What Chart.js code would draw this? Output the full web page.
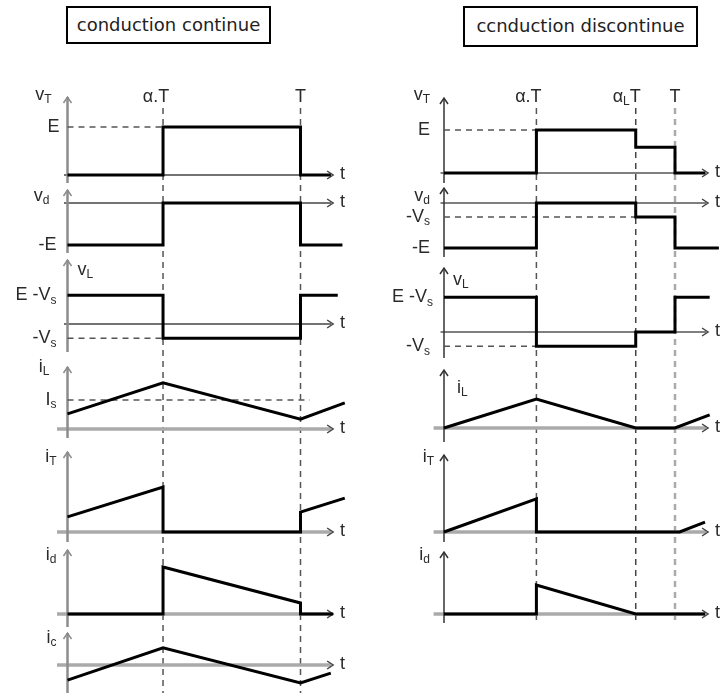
<!DOCTYPE html>
<html>
<head>
<meta charset="utf-8">
<script src="https://cdn.jsdelivr.net/npm/chart.js@4/dist/chart.umd.min.js"></script>
<style>
body { margin: 0; background: #fff; width: 724px; height: 697px; position: relative; overflow: hidden; }
.title { position: absolute; box-sizing: border-box; border: 2px solid #000; font: 18px "DejaVu Sans", sans-serif; color: #222; text-align: center; }
</style>
</head>
<body>
<div class="title" style="left:66px;top:6px;width:205px;height:38px;line-height:33px">conduction continue</div>
<div class="title" style="left:463px;top:6px;width:235px;height:41px;line-height:36px">ccnduction discontinue</div>
<script>
// time in units of T, voltages in units of E, currents in units of Is

// conduction continue
var alphaC = 0.41;
var vsC = 0.33;
var isC = 1;
var contVT_t = [0, 0.41, 0.41, 1, 1, 1.13];
var contVT   = [0, 0, 1, 1, 0, 0];
var contVd_t = [0, 0.41, 0.41, 1, 1, 1.18];
var contVd   = [-1, -1, 0, 0, -1, -1];
var contVL_t = [0, 0.41, 0.41, 1, 1, 1.16];
var contVL   = [0.67, 0.67, -0.33, -0.33, 0.67, 0.67];
var contIL_t = [0, 0.41, 1, 1.19];
var contIL   = [0.52, 1.59, 0.34, 0.9];
var contIT_t = [0, 0.41, 0.41, 1, 1, 1.19];
var contIT   = [0.52, 1.55, 0, 0, 0.69, 1.17];
var contId_t = [0, 0.41, 0.41, 1, 1, 1.14];
var contId   = [0, 0, 1.62, 0.38, 0, 0];
var contIc_t = [0, 0.41, 1, 1.13];
var contIc   = [-0.52, 0.59, -0.62, -0.28];
var contMarks = [0.41, 1];
var contMarkText = ['α.T', 'T'];

// conduction discontinue
var alphaD = 0.40;
var alphaL = 0.83;
var vsD = 0.31;
var discVT_t = [0, 0.40, 0.40, 0.83, 0.83, 1, 1, 1.13];
var discVT   = [0, 0, 1, 1, 0.6, 0.6, 0, 0];
var discVd_t = [0, 0.40, 0.40, 0.83, 0.83, 1, 1, 1.19];
var discVd   = [-1, -1, 0, 0, -0.31, -0.31, -1, -1];
var discVL_t = [0, 0.40, 0.40, 0.83, 0.83, 1, 1, 1.15];
var discVL   = [0.71, 0.71, -0.29, -0.29, 0, 0, 0.71, 0.71];
var discIL_t = [0, 0.40, 0.83, 1, 1.15];
var discIL   = [0, 1.0, 0, 0, 0.45];
var discIT_t = [0, 0.40, 0.40, 1.02, 1.13];
var discIT   = [0, 1.14, 0, 0, 0.34];
var discId_t = [0, 0.40, 0.40, 0.83, 1.13];
var discId   = [0, 0, 1.0, 0, 0];
var discMarks = [0.40, 0.83, 1];
var discMarkText = ['α.T', 'α_{L}T', 'T'];

// layout of the two columns
var colC = {
  left: 0, width: 362, x0: 67.5, ppt: 233, dashTop: 108, dashBottom: 693,
  marks: contMarks, markText: contMarkText, markDx: [-7, 0],
  markColor: ['#555', '#555'], markWidth: [1.5, 1.5],
  axisColor: '#8c8c8c', axisWidth: 2.5, vAxis: '#444', iAxis: '#aaa', tArrow: 1.14
};
var colD = {
  left: 362, width: 362, x0: 444, ppt: 231, dashTop: 108, dashBottom: 622,
  marks: discMarks, markText: discMarkText, markDx: [-8, -9, 0],
  markColor: ['#555', '#444', '#aaa'], markWidth: [1.5, 1.5, 2.5],
  axisColor: '#333', axisWidth: 1.5, vAxis: '#555', iAxis: '#aaa', tArrow: 1.143
};

var panelsC = [
  {first: true, kind: 'v', top: 80, bottom: 183, zeroY: 175, unit: 48, arrowY: 97, t: contVT_t, v: contVT,
   refs: [[0, alphaC, 1]], labels: [{s: 'v_T', dx: -16, ay: -2}, {s: 'E', dx: -8, v: 1}]},
  {kind: 'v', top: 183, bottom: 253, zeroY: 203, unit: 42, arrowY: 190, t: contVd_t, v: contVd,
   refs: [], labels: [{s: 'v_d', dx: -18, ay: 6}, {s: '-E', dx: -11, v: -1}]},
  {kind: 'v', top: 253, bottom: 352, zeroY: 324, unit: 43, arrowY: 260, t: contVL_t, v: contVL,
   refs: [[0, alphaC, -vsC]], labels: [{s: 'v_L', dx: 10, ay: 10, align: 'left'}, {s: 'E -V_s', dx: -11, v: 1 - vsC}, {s: '-V_s', dx: -11, v: -vsC}]},
  {kind: 'i', top: 352, bottom: 442, zeroY: 429, unit: 29, arrowY: 367, axisBottom: 438, t: contIL_t, v: contIL,
   refs: [[0, 1.04, isC]], labels: [{s: 'i_L', dx: -18, ay: 0}, {s: 'I_s', dx: -11, v: isC}]},
  {kind: 'i', top: 442, bottom: 542, zeroY: 532, unit: 29, arrowY: 452, t: contIT_t, v: contIT,
   refs: [], labels: [{s: 'i_T', dx: -11, ay: 5}]},
  {kind: 'i', top: 542, bottom: 627, zeroY: 614, unit: 29, arrowY: 550, t: contId_t, v: contId,
   refs: [], labels: [{s: 'i_d', dx: -11, ay: 5}]},
  {kind: 'i', top: 627, bottom: 697, zeroY: 665, unit: 29, arrowY: 633, axisBottom: 693, t: contIc_t, v: contIc,
   refs: [], labels: [{s: 'i_c', dx: -11, ay: 5}]}
];

var panelsD = [
  {first: true, kind: 'v', top: 80, bottom: 183, zeroY: 173, unit: 43, arrowY: 98, t: discVT_t, v: discVT,
   refs: [[0, alphaD, 1]], labels: [{s: 'v_T', dx: -14, ay: -3}, {s: 'E', dx: -14, v: 1}]},
  {kind: 'v', top: 183, bottom: 257, zeroY: 203, unit: 45, arrowY: 188, t: discVd_t, v: discVd,
   refs: [[0, alphaL, -vsD]], labels: [{s: 'v_d', dx: -14, ay: 8}, {s: '-V_s', dx: -14, v: -vsD}, {s: '-E', dx: -14, v: -1}]},
  {kind: 'v', top: 257, bottom: 358, zeroY: 332, unit: 49, arrowY: 268, t: discVL_t, v: discVL,
   refs: [[0, alphaD, -0.29]], labels: [{s: 'v_L', dx: 9, ay: 12, align: 'left'}, {s: 'E -V_s', dx: -11, v: 0.71}, {s: '-V_s', dx: -14, v: -0.29}]},
  {kind: 'i', top: 358, bottom: 442, zeroY: 428, unit: 29, arrowY: 370, t: discIL_t, v: discIL,
   refs: [], labels: [{s: 'i_L', dx: 13, ay: 18, align: 'left'}]},
  {kind: 'i', top: 442, bottom: 542, zeroY: 532, unit: 29, arrowY: 455, t: discIT_t, v: discIT,
   refs: [], labels: [{s: 'i_T', dx: -10, ay: 2}]},
  {kind: 'i', top: 542, bottom: 632, zeroY: 614, unit: 29, arrowY: 552, axisBottom: 623, t: discId_t, v: discId,
   refs: [], labels: [{s: 'i_d', dx: -14, ay: 3}]}
];

function pts(ts, vs) {
  return ts.map(function (t, i) { return {x: t, y: vs[i]}; });
}

// text with simple subscripts: "v_T", "α_{L}T"
function drawText(ctx, s, x, y, align) {
  var parts = [];
  s.replace(/_\{([^}]*)\}|_(.)|([^_]+)/g, function (m, a, b, c) {
    if (c !== undefined) parts.push([c, false]); else parts.push([a || b, true]);
    return m;
  });
  var fMain = '18px "Liberation Sans"', fSub = '12px "Liberation Sans"';
  var w = 0;
  parts.forEach(function (p) { ctx.font = p[1] ? fSub : fMain; w += ctx.measureText(p[0]).width; });
  var cx = align === 'left' ? x : (align === 'center' ? x - w / 2 : x - w);
  ctx.textAlign = 'left';
  ctx.textBaseline = 'middle';
  parts.forEach(function (p) {
    ctx.font = p[1] ? fSub : fMain;
    ctx.fillText(p[0], cx, p[1] ? y + 5 : y);
    cx += ctx.measureText(p[0]).width;
  });
}

function seg(ctx, pts) {
  ctx.beginPath();
  ctx.moveTo(pts[0], pts[1]);
  for (var i = 2; i < pts.length; i += 2) ctx.lineTo(pts[i], pts[i + 1]);
  ctx.stroke();
}

function diagram(col, p) {
  return {
    id: 'diagram',
    beforeDatasetsDraw: function (chart) {
      var ctx = chart.ctx, xs = chart.scales.x, ys = chart.scales.y;
      var ax = xs.getPixelForValue(0), y0 = ys.getPixelForValue(0);
      ctx.save();
      // dashed vertical lines at alpha.T, alphaL.T, T
      var y1 = Math.max(0, col.dashTop - p.top), y2 = Math.min(chart.height, col.dashBottom - p.top);
      col.marks.forEach(function (m, i) {
        if (y2 <= y1) return;
        var px = xs.getPixelForValue(m);
        ctx.strokeStyle = col.markColor[i];
        ctx.lineWidth = col.markWidth[i];
        ctx.setLineDash([6, 5]);
        ctx.lineDashOffset = Math.max(0, p.top - col.dashTop);
        seg(ctx, [px, y1, px, y2]);
      });
      ctx.setLineDash([]);
      // time axis
      var cur = p.kind === 'i';
      var xa = xs.getPixelForValue(cur ? -0.045 : -0.015), xb = xs.getPixelForValue(col.tArrow);
      ctx.strokeStyle = cur ? col.iAxis : col.vAxis;
      ctx.lineWidth = cur ? 3.5 : 1.5;
      seg(ctx, [xa, y0, xb - 2, y0]);
      ctx.strokeStyle = '#444';
      ctx.lineWidth = 1.5;
      seg(ctx, [xb - 6, y0 - 4, xb, y0, xb - 6, y0 + 4]);
      // vertical axis
      var ay = p.arrowY - p.top, yb = (p.axisBottom || p.bottom) - p.top;
      ctx.strokeStyle = col.axisColor;
      ctx.lineWidth = col.axisWidth;
      seg(ctx, [ax, ay, ax, yb]);
      ctx.lineWidth = 1.5;
      seg(ctx, [ax - 4, ay + 6, ax, ay, ax + 4, ay + 6]);
      ctx.restore();
    },
    afterDatasetsDraw: function (chart) {
      var ctx = chart.ctx, xs = chart.scales.x, ys = chart.scales.y;
      var ax = xs.getPixelForValue(0), y0 = ys.getPixelForValue(0);
      ctx.save();
      ctx.fillStyle = '#2a2a2a';
      p.labels.forEach(function (l) {
        var y = l.v !== undefined ? ys.getPixelForValue(l.v) : p.arrowY - p.top + l.ay;
        drawText(ctx, l.s, ax + l.dx, y, l.align || 'right');
      });
      drawText(ctx, 't', xs.getPixelForValue(col.tArrow) + 7, y0 - 1, 'left');
      if (p.first) {
        col.marks.forEach(function (m, i) {
          drawText(ctx, col.markText[i], xs.getPixelForValue(m) + col.markDx[i], 97 - p.top, 'center');
        });
      }
      ctx.restore();
    }
  };
}

function makeChart(col, p) {
  var h = p.bottom - p.top;
  var cv = document.createElement('canvas');
  cv.width = col.width;
  cv.height = h;
  cv.style.cssText = 'position:absolute;left:' + col.left + 'px;top:' + p.top + 'px;width:' + col.width + 'px;height:' + h + 'px';
  document.body.appendChild(cv);
  var x0 = col.x0 - col.left;
  var datasets = [{data: pts(p.t, p.v), borderColor: '#000', borderWidth: 3, borderJoinStyle: 'miter'}];
  p.refs.forEach(function (r) {
    datasets.push({data: [{x: r[0], y: r[2]}, {x: r[1], y: r[2]}], borderColor: '#555', borderWidth: 1.5, borderDash: [6, 5]});
  });
  new Chart(cv, {
    type: 'line',
    data: {datasets: datasets},
    options: {
      responsive: false,
      animation: false,
      devicePixelRatio: 1,
      layout: {padding: 0},
      events: [],
      plugins: {legend: {display: false}, tooltip: {enabled: false}},
      elements: {point: {radius: 0}, line: {tension: 0}},
      scales: {
        x: {type: 'linear', display: false, min: -x0 / col.ppt, max: (col.width - x0) / col.ppt},
        y: {type: 'linear', display: false, min: -(p.bottom - p.zeroY) / p.unit, max: (p.zeroY - p.top) / p.unit}
      }
    },
    plugins: [diagram(col, p)]
  });
}

panelsC.forEach(function (p) { makeChart(colC, p); });
panelsD.forEach(function (p) { makeChart(colD, p); });
</script>
</body>
</html>
